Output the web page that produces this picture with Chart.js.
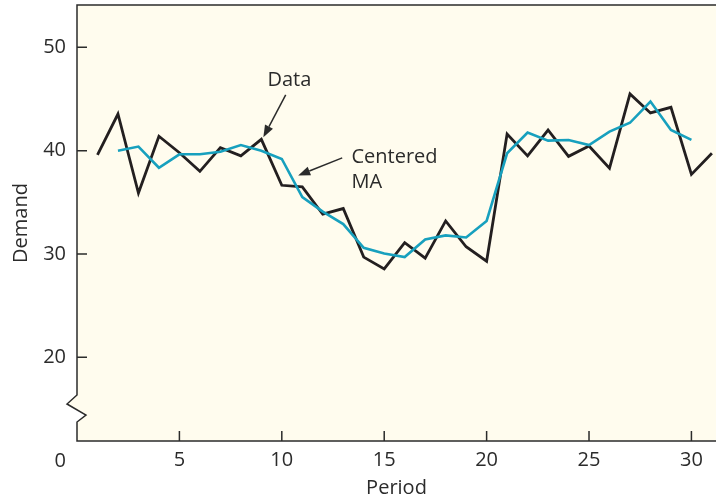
<!DOCTYPE html>
<html>
<head>
<meta charset="utf-8">
<script src="https://cdn.jsdelivr.net/npm/chart.js@4/dist/chart.umd.min.js"></script>
<style>
  html, body { margin: 0; padding: 0; background: #fff; }
  #wrap { width: 716px; height: 500px; }
</style>
</head>
<body>
<div id="wrap"><canvas id="chart"></canvas></div>
<script>
// demand per period (black line)
var periods = [1,2,3,4,5,6,7,8,9,10,11,12,13,14,15,16,17,18,19,20,21,22,23,24,25,26,27,28,29,30,31];
var demand = [39.6,43.55,35.9,41.4,39.8,38.0,40.3,39.5,41.1,36.65,36.5,33.85,34.4,29.7,28.55,31.1,29.6,33.2,30.7,29.3,41.6,39.5,42.0,39.45,40.45,38.3,45.5,43.65,44.2,37.7,39.75];

// centered moving average (teal line)
var maPeriods = [2,3,4,5,6,7,8,9,10,11,12,13,14,15,16,17,18,19,20,21,22,23,24,25,26,27,28,29,30];
var ma = [40.0,40.4,38.35,39.65,39.65,39.9,40.55,40.0,39.2,35.5,34.1,32.9,30.6,30.05,29.7,31.4,31.8,31.6,33.2,39.75,41.75,40.97,41.04,40.55,41.84,42.7,44.75,42.0,41.04];

var xTicks = [5,10,15,20,25,30];
var yTicks = [20,30,40,50];

var ink = '#2b2b2b';
var fontFam = '"Open Sans", "DejaVu Sans", sans-serif';
var fs = 20;

function pairs(xs, ys) { return xs.map((x, i) => { return { x: x, y: ys[i] } }) }

function arrow(ctx, x1, y1, x2, y2) {
    var a = Math.atan2(y2 - y1, x2 - x1);
    var hl = 12, hw = 4.5;
    var bx = x2 - hl * Math.cos(a), by = y2 - hl * Math.sin(a);
    ctx.beginPath();
    ctx.moveTo(x1, y1);
    ctx.lineTo(bx, by);
    ctx.lineWidth = 1.5;
    ctx.strokeStyle = ink;
    ctx.stroke();
    ctx.beginPath();
    ctx.moveTo(x2, y2);
    ctx.lineTo(bx - hw * Math.sin(a), by + hw * Math.cos(a));
    ctx.lineTo(bx + hw * Math.sin(a), by - hw * Math.cos(a));
    ctx.closePath();
    ctx.fillStyle = ink;
    ctx.fill();
}

var frame = {
    id: 'frame',
    beforeDatasetsDraw(chart) {
        var c = chart.ctx, a = chart.chartArea;
        c.save();
        c.fillStyle = '#fffcee';
        c.fillRect(a.left, a.top, a.right - a.left, a.bottom - a.top);
        c.restore();
    },
    afterDraw(chart) {
        var c = chart.ctx, a = chart.chartArea;
        var xs = chart.scales.x, ys = chart.scales.y;
        var L = a.left, B = a.bottom, T = a.top;
        c.save();
        // axis break area
        c.fillStyle = '#ffffff';
        c.beginPath();
        c.moveTo(L, 409.8); c.lineTo(L + 9, 415); c.lineTo(L, 422); c.closePath();
        c.fill();
        c.fillStyle = '#fffcee';
        c.beginPath();
        c.moveTo(L, 395); c.lineTo(L - 10, 404); c.lineTo(L, 409.8); c.closePath();
        c.fill();

        c.strokeStyle = ink;
        c.lineWidth = 1.5;
        c.beginPath();
        c.moveTo(a.right, T); c.lineTo(L, T);
        c.lineTo(L, 395);
        c.lineTo(L - 10, 404);
        c.lineTo(L + 9, 415);
        c.lineTo(L, 422);
        c.lineTo(L, B);
        c.lineTo(a.right, B);
        c.stroke();

        // inside ticks
        c.beginPath();
        xTicks.forEach(v => { var px = xs.getPixelForValue(v); c.moveTo(px, B); c.lineTo(px, B - 10); });
        yTicks.forEach(v => { var py = ys.getPixelForValue(v); c.moveTo(L, py); c.lineTo(L + 10, py); });
        c.stroke();

        // origin label
        c.fillStyle = ink;
        c.font = fs + 'px ' + fontFam;
        c.textAlign = 'right';
        c.textBaseline = 'middle';
        c.fillText('0', 66, 461);

        // annotations
        c.textAlign = 'left';
        c.fillText('Data', xs.getPixelForValue(9.3), ys.getPixelForValue(46.8));
        c.fillText('Centered', xs.getPixelForValue(13.4), ys.getPixelForValue(39.4));
        c.fillText('MA', xs.getPixelForValue(13.4), ys.getPixelForValue(36.9));
        arrow(c, xs.getPixelForValue(10.19), ys.getPixelForValue(45.4), xs.getPixelForValue(9.1), ys.getPixelForValue(41.3));
        arrow(c, xs.getPixelForValue(12.95), ys.getPixelForValue(39.3), xs.getPixelForValue(10.8), ys.getPixelForValue(37.6));
        c.restore();
    }
};

var ctx = document.getElementById('chart').getContext('2d');
var chart = new Chart(ctx, {
    type: 'line',
    data: {
        datasets: [
            {
                label: 'Centered MA',
                data: pairs(maPeriods, ma),
                borderColor: '#17a0be',
                borderWidth: 2.6,
                pointRadius: 0,
                tension: 0,
                borderJoinStyle: 'miter'
            },
            {
                label: 'Data',
                data: pairs(periods, demand),
                borderColor: '#231f20',
                borderWidth: 2.8,
                pointRadius: 0,
                tension: 0,
                borderJoinStyle: 'miter'
            }
        ]
    },
    options: {
        responsive: true,
        maintainAspectRatio: false,
        animation: false,
        layout: { padding: { top: 5, right: 0, left: 0, bottom: 0 } },
        plugins: { legend: { display: false }, tooltip: { enabled: false } },
        scales: {
            x: {
                type: 'linear',
                min: 0,
                max: 31.2,
                grid: { display: false, drawTicks: false },
                border: { display: false },
                afterBuildTicks: s => { s.ticks = xTicks.map(v => ({ value: v })) },
                afterFit: s => { s.height = 59; s.paddingLeft = 0; s.paddingRight = 0 },
                ticks: { color: ink, font: { family: fontFam, size: fs }, padding: 7, maxRotation: 0 },
                title: { display: true, text: 'Period', color: ink, font: { family: fontFam, size: fs }, padding: { top: 0, bottom: 0 } }
            },
            y: {
                type: 'linear',
                min: 11.9,
                max: 54.1,
                grid: { display: false, drawTicks: false },
                border: { display: false },
                afterBuildTicks: s => { s.ticks = yTicks.map(v => ({ value: v })) },
                afterFit: s => { s.width = 77; s.paddingTop = 0; s.paddingBottom = 0 },
                ticks: { color: ink, font: { family: fontFam, size: fs }, padding: 11 },
                title: { display: true, text: 'Demand', color: ink, font: { family: fontFam, size: fs }, padding: { top: 9, bottom: 0 } }
            }
        }
    },
    plugins: [frame]
});
</script>
</body>
</html>
